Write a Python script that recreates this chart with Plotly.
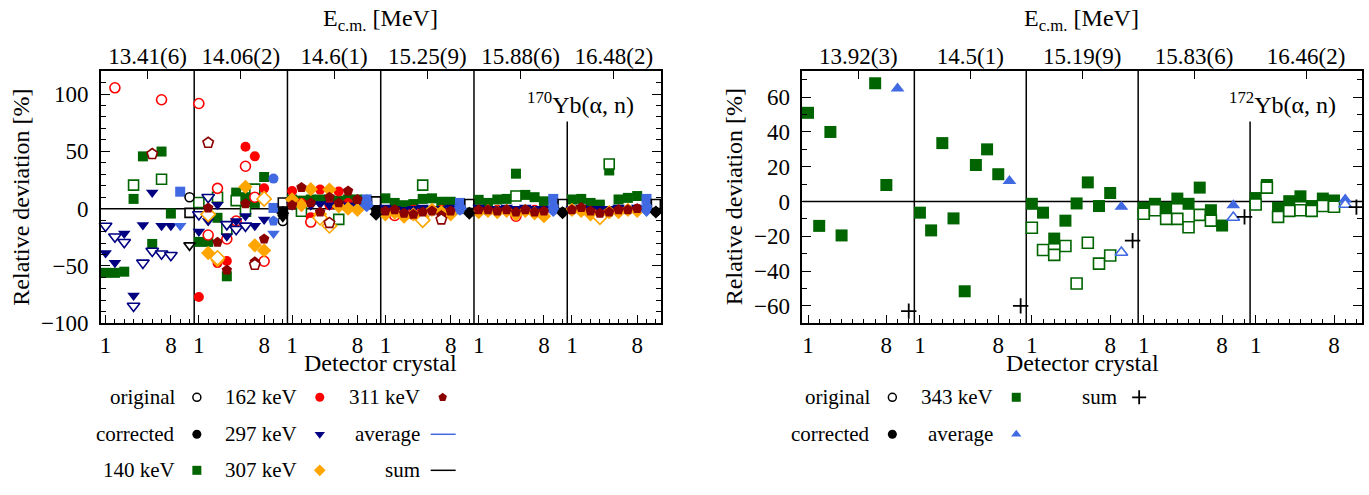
import plotly.graph_objects as go

N = None
# ---------------- data: 170Yb(alpha,n) ----------------
energies_170 = ["13.41(6)", "14.06(2)", "14.6(1)", "15.25(9)", "15.88(6)", "16.48(2)"]
energies_172 = ["13.92(3)", "14.5(1)", "15.19(9)", "15.83(6)", "16.46(2)"]
crystals = [1, 2, 3, 4, 5, 6, 7, 8]
avg_slot = 9
sum_slot = 10
crystal_ticks = [1, 8]

c140_corr = [[-56, -56, -55, 8.5, 45.6, -30.8, 49.8, -4.3],
             [-29, -29, -8, -59, 14, 10, 5, 27.6],
             [8, 7, 8, 8, 8, 7, 8, 8],
             [9, 5, 3, 4, 8.5, 9, 6, 6],
             [7.7, 5, 8, 8.5, 30.5, 12, 10, 6.4],
             [8, 8.5, 5, 3.5, 33.3, 8, 9.4, 11]]
c140_orig = [[N, N, N, 20.5, N, N, 25.6, N],
             [5.4, N, 10, -18, 7, -2.3, 17, N],
             [N, -2.3, N, N, N, -9.4, N, N],
             [N, N, N, N, 20.5, N, N, N],
             [N, N, N, N, 11, N, N, N],
             [N, N, N, N, 39, N, N, N]]
c162_corr = [[N, N, N, N, N, N, N, N],
             [-77, N, -47.5, -45.6, N, 54, 45.6, 17.7],
             [15.4, 5, -7.4, 16.6, 3, 15, 5, 2],
             [-2, -3, -4, -1, -3, -1, -1, -2],
             [-3, -2, -1, -1, -3.7, -1, -1, -2],
             [-1, 0, -3, -4, -2, -1, -1, 0]]
c162_orig = [[N, 105.4, N, N, N, N, 95, N],
             [91.7, -23, 17.7, -26.5, -10.8, 37, 10, -45.9],
             [N, N, -11.7, N, N, N, N, N],
             [N, -6, N, -5, N, N, N, N],
             [N, N, N, N, -6.6, N, N, N],
             [N, N, N, N, N, N, N, N]]
c297_corr = [[-38.8, -47.3, -21.7, -75.8, -14.2, 14, -15, -15],
             [-19.9, -10.8, 3.4, -24, -10.8, -6.5, -15, -9.4],
             [3, 2, 3, 4, 3, 4, 3, 2],
             [1, 0, -1, 0, 1, 0, 0, 1],
             [1, 0, 0, 1, 0, 1, 0, 0],
             [0, 1, 0, 0, 0, 1, 0, 1]]
c297_orig = [[-15.1, -24.5, -29.3, -84.9, -47.3, -37, -39.3, -40.7],
             [-5.1, 10, N, -13.7, -18, -15, N, N],
             [N, N, N, N, N, N, N, N],
             [N, N, N, N, N, N, N, N],
             [N, N, N, N, N, N, N, N],
             [N, N, N, N, N, N, N, N]]
c307_corr = [[N, N, N, N, N, N, N, N],
             [N, -38.7, -45, N, N, 19, -32, -36.5],
             [8, 3, 17, -5, 16.6, 2, 0, -1],
             [-5, -3.5, -7, -5, -7, -1, -3, -5],
             [-3, -2, -3, -2, -5, -2, -4, -6.6],
             [-1, -2, -5, -6, -3, -3, -1, -2]]
c307_orig = [[N, N, N, N, N, N, N, N],
             [N, -5, -43, N, N, N, N, 8.5],
             [N, N, N, -8, -15, N, N, N],
             [N, N, N, N, -10, N, N, N],
             [N, N, N, N, N, N, N, N],
             [N, N, N, -7.4, N, N, N, N]]
c311_corr = [[N, N, N, N, N, N, N, N],
             [N, 0.6, -29.3, -53.6, N, 4.3, -46.4, -26.5],
             [3, 18.5, 5, -3, 10, 5, 15.4, 8],
             [-2, -1, -4, -5, -3, -2, -6, -2],
             [-1, -1, -2, -1, -3, -1, -3, -2],
             [-1, 1, -2, -4, -3, -1, -1, 0]]
c311_orig = [[N, N, N, N, N, 47.6, N, N],
             [N, 57.5, N, N, N, N, -49, N],
             [N, N, N, N, -12.5, N, N, N],
             [N, N, N, N, N, N, -9.4, N],
             [N, N, N, N, N, N, N, N],
             [N, N, N, N, N, N, N, N]]

avg140_corr = [14.8, 0.6, 8, 5, 8.5, 8.5]
avg162_corr = [N, 26.2, 8, 1, 1, 1]
avg297_corr = [-15, -21.7, 4, 1, 1, 1]
avg307_corr = [N, N, 3, 0, -1, -1]
avg311_corr = [N, -10.8, 5, -1, -1, 0]
sum140_orig = [-3.7, 5.4, 6.3, 4, 4, 4]
sum162_orig = [10, -10.8, N, N, N, N]
sum297_orig = [-32, N, N, N, N, N]
sum140_corr = [N, -2, 0, -1, -1, -1]
sum162_corr = [N, -6, -4, -3, -3, -3]
sum297_corr = [N, -8, -2, -2, -2, -2]
sum307_corr = [N, -4, -5, -4, -3.5, -3]
sum311_corr = [N, -2, -3, -3.5, -3, -2]

# ---------------- data: 172Yb(alpha,n), 343 keV ----------------
c343_corr = [[51, -14, 40, -19.5, N, N, 68, 9.5],
             [-6.4, -16.6, 33.6, -9.7, -51.6, 21, 30, 15.7],
             [-1.3, -6.4, -21.3, -11, -1.1, 11, -2.6, 4.9],
             [-3.6, -1.3, -3.6, 1.7, -1.3, 8, -5, -13.8],
             [2, 9.5, -3.6, 0.2, 3, -2.6, 1.7, 0.6]]
c343_orig = [[N, N, N, N, N, N, N, N],
             [N, N, N, N, N, N, N, N],
             [-15.1, -27.9, -30.7, -25.6, -47.1, -23.7, -35.7, -31],
             [-7, -5, -10, -10, -14.8, -7.7, -11, N],
             [-1.7, 8, -8.8, -5.4, -5, -5.4, -2.6, -3]]
avg343_corr = [65, 11.8, -3, -2.2, 1.1]
avg343_orig = [N, N, -29.3, -9.2, -1.7]
sum343 = [-63, -60, -22.5, -8.8, -3.2]

FONT = "Liberation Serif"
GREEN, RED, NAVY, ORANGE, DRED, BLUE = "#006400", "#ff0000", "#000080", "#ffa500", "#8b0000", "#4169e1"

fig = go.Figure()


def crystal_points(groups):
    xs, ys = [], []
    for g, vals in enumerate(groups):
        for c, v in zip(crystals, vals):
            if v is not None:
                xs.append(10 * g + c)
                ys.append(v)
    return xs, ys


def slot_points(vals, slot):
    xs, ys = [], []
    for g, v in enumerate(vals):
        if v is not None:
            xs.append(10 * g + slot)
            ys.append(v)
    return xs, ys


def add(pts, symbol, color, filled, size, xa, ya):
    xs, ys = pts
    if filled:
        marker = dict(symbol=symbol, size=size, color=color, line=dict(width=0))
    else:
        marker = dict(symbol=symbol, size=size, color="white", line=dict(width=1.6, color=color))
    fig.add_trace(go.Scatter(x=xs, y=ys, mode="markers", marker=marker, xaxis=xa, yaxis=ya,
                             showlegend=False, hoverinfo="skip", cliponaxis=False))


series_170 = [
    ("square", GREEN, 10, c140_corr, c140_orig, avg140_corr, sum140_corr, sum140_orig),
    ("circle", RED, 10, c162_corr, c162_orig, avg162_corr, sum162_corr, sum162_orig),
    ("triangle-down", NAVY, 11, c297_corr, c297_orig, avg297_corr, sum297_corr, sum297_orig),
    ("diamond", ORANGE, 11, c307_corr, c307_orig, avg307_corr, sum307_corr, None),
    ("pentagon", DRED, 11, c311_corr, c311_orig, avg311_corr, sum311_corr, None),
]
for sym, col, sz, corr, orig, avgc, sumc, sumo in series_170:
    add(crystal_points(corr), sym, col, True, sz, "x", "y")
    add(crystal_points(orig), sym, col, False, sz, "x", "y")
    add(slot_points(avgc, avg_slot), sym, BLUE, True, sz, "x", "y")
    add(slot_points(sumc, sum_slot), sym, "black", True, sz - 1, "x", "y")
    if sumo is not None:
        add(slot_points(sumo, sum_slot), sym, "black", False, sz - 1, "x", "y")

add(crystal_points(c343_corr), "square", GREEN, True, 12, "x3", "y3")
add(crystal_points(c343_orig), "square", GREEN, False, 11, "x3", "y3")
add(slot_points(avg343_corr, avg_slot), "triangle-up", BLUE, True, 12, "x3", "y3")
add(slot_points(avg343_orig, avg_slot), "triangle-up", BLUE, False, 11, "x3", "y3")
xs, ys = slot_points(sum343, sum_slot)
fig.add_trace(go.Scatter(x=xs, y=ys, mode="markers", xaxis="x3", yaxis="y3", showlegend=False,
                         marker=dict(symbol="cross-thin", size=11, line=dict(width=1.8, color="black"))))

# invisible traces so the top axes render
fig.add_trace(go.Scatter(x=[1], y=[0], xaxis="x2", yaxis="y", mode="markers", marker=dict(opacity=0), showlegend=False))
fig.add_trace(go.Scatter(x=[1], y=[0], xaxis="x4", yaxis="y3", mode="markers", marker=dict(opacity=0), showlegend=False))

W, H = 1369, 495


def px(x):
    return x / W


def py(y):
    return 1 - y / H


L_dom = [px(100), px(660)]
R_dom = [px(802), px(1362)]
Y_dom = [py(332), py(73)]
tickfont = dict(family=FONT, size=23, color="black")


def bottom_axis(dom, ng, anchor):
    tv = [10 * g + c for g in range(ng) for c in crystal_ticks]
    return dict(domain=dom, range=[0.5, 10 * ng + 0.5], anchor=anchor, tickmode="array", tickvals=tv,
                ticktext=[str(c) for g in range(ng) for c in crystal_ticks],
                ticks="inside", ticklen=9, tickwidth=1.3, tickcolor="black",
                showline=True, linecolor="black", linewidth=1.5, mirror=False,
                showgrid=False, zeroline=False, tickfont=tickfont,
                minor=dict(tick0=1, dtick=1, ticks="inside", ticklen=5, tickwidth=1, tickcolor="black"))


def top_axis(ng, labels, over, anchor):
    return dict(overlaying=over, side="top", anchor=anchor, range=[0.5, 10 * ng + 0.5],
                tickmode="array", tickvals=[10 * g + 5.5 for g in range(ng)], ticktext=labels,
                ticks="inside", ticklen=8, tickwidth=1.3, tickcolor="black",
                showline=True, linecolor="black", linewidth=1.5, ticklabelstandoff=-4,
                showgrid=False, zeroline=False, tickfont=tickfont)


def y_axis(anchor, rng, step, minor_step):
    return dict(domain=Y_dom, range=rng, anchor=anchor, dtick=step, tick0=0,
                ticks="inside", ticklen=9, tickwidth=1.3, tickcolor="black",
                showline=True, linecolor="black", linewidth=1.5, mirror="ticks",
                showgrid=False, zeroline=False, tickfont=tickfont, ticklabelstandoff=6,
                minor=dict(dtick=minor_step, tick0=0, ticks="inside", ticklen=5, tickwidth=1, tickcolor="black"))


fig.update_layout(
    width=W, height=H, margin=dict(l=0, r=0, t=0, b=0),
    plot_bgcolor="rgba(0,0,0,0)", paper_bgcolor="white",
    font=dict(family=FONT, size=24, color="black"),
    showlegend=False,
    xaxis=bottom_axis(L_dom, len(energies_170), "y"),
    xaxis2=top_axis(len(energies_170), energies_170, "x", "y"),
    yaxis=y_axis("x", [-100, 120], 50, 10),
    xaxis3=bottom_axis(R_dom, len(energies_172), "y3"),
    xaxis4=top_axis(len(energies_172), energies_172, "x3", "y3"),
    yaxis3=y_axis("x3", [-70, 75], 20, 10),
    xaxis5=dict(domain=[0, 1], range=[0, W], visible=False, anchor="y5"),
    yaxis5=dict(domain=[0, 1], range=[H, 0], visible=False, anchor="x5"),
)

shapes = []


def panel_lines(xref, yref, ng, ylo, yhi, ycut):
    for g in range(1, ng):
        top = ycut if g == ng - 1 else yhi
        shapes.append(dict(type="line", xref=xref, yref=yref, x0=10 * g + 0.5, x1=10 * g + 0.5,
                           y0=ylo, y1=top, layer="below", line=dict(color="black", width=1.5)))
    shapes.append(dict(type="line", xref=xref, yref=yref, x0=0.5, x1=10 * ng + 0.5, y0=0, y1=0,
                       layer="below", line=dict(color="black", width=1.5)))


panel_lines("x", "y", len(energies_170), -100, 120, 76)
panel_lines("x3", "y3", len(energies_172), -70, 75, 46)

annotations = []


def ann(text, x, y, size=24, xanchor="center", angle=0):
    annotations.append(dict(text=text, x=px(x), y=py(y), xref="paper", yref="paper", showarrow=False,
                            xanchor=xanchor, yanchor="middle", textangle=angle,
                            font=dict(family=FONT, size=size, color="black")))


for cx in [380, 1081]:
    ann("E<sub>c.m.</sub> [MeV]", cx, 21)
ann("Detector crystal", 380, 373)
ann("Detector crystal", 1082, 373)
ann("Relative deviation [%]", 20, 202, angle=-90)
ann("Relative deviation [%]", 733, 202, angle=-90)
ann("<sup>170</sup>Yb(α, n)", 580, 106)
ann("<sup>172</sup>Yb(α, n)", 1282, 106)

# ---- manual legends ----
LS = 21
left_leg = [("original", 176, 408), ("corrected", 176, 446), ("140 keV", 176, 483),
            ("162 keV", 298, 408), ("297 keV", 298, 446), ("307 keV", 298, 483),
            ("311 keV", 421, 408), ("average", 421, 446), ("sum", 421, 483)]
right_leg = [("original", 872, 408), ("corrected", 872, 446), ("343 keV", 995, 408),
             ("average", 995, 446), ("sum", 1119, 408)]
for t, x, y in left_leg + right_leg:
    ann(t, x, y, size=LS, xanchor="right")

leg_markers = [
    (196, 408, "circle", "black", False), (196, 446, "circle", "black", True), (196, 483, "square", GREEN, True),
    (319, 408, "circle", RED, True), (319, 446, "triangle-down", NAVY, True), (319, 483, "diamond", ORANGE, True),
    (442, 408, "pentagon", DRED, True),
    (892, 408, "circle", "black", False), (892, 446, "circle", "black", True),
    (1016, 408, "square", GREEN, True), (1016, 446, "triangle-up", BLUE, True),
]
for x, y, sym, col, filled in leg_markers:
    if filled:
        m = dict(symbol=sym, size=9, color=col)
    else:
        m = dict(symbol=sym, size=8, color="white", line=dict(width=1.5, color=col))
    fig.add_trace(go.Scatter(x=[x], y=[y], xaxis="x5", yaxis="y5", mode="markers", marker=m,
                             showlegend=False, hoverinfo="skip"))
fig.add_trace(go.Scatter(x=[1139], y=[408], xaxis="x5", yaxis="y5", mode="markers", showlegend=False,
                         marker=dict(symbol="cross-thin", size=10, line=dict(width=1.8, color="black"))))
for y, col in [(446, BLUE), (483, "black")]:
    shapes.append(dict(type="line", xref="paper", yref="paper", x0=px(430), x1=px(455), y0=py(y), y1=py(y),
                       line=dict(color=col, width=1.5)))

fig.update_layout(shapes=shapes, annotations=annotations)
# remove the default 8px page margin so the 1369x495 figure fills the window exactly
fig.write_html("out.html", config={"displayModeBar": False},
               post_script="document.body.style.margin='0px';")
